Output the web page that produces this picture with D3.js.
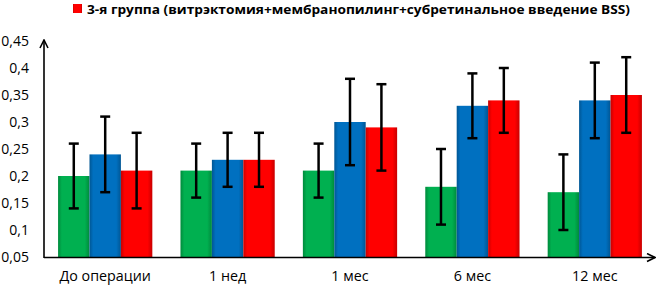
<!DOCTYPE html>
<html>
<head>
<meta charset="utf-8">
<script src="https://cdn.jsdelivr.net/npm/d3@7"></script>
<style>
  body { margin: 0; background: #fff; }
  text { font-family: "Open Sans", sans-serif; }
</style>
</head>
<body>
<script>
// данные с графика
var categories = ["До операции", "1 нед", "1 мес", "6 мес", "12 мес"];
var seriesNames = ["1-я группа", "2-я группа", "3-я группа (витрэктомия+мембранопилинг+субретинальное введение BSS)"];
var greenVals = [0.20, 0.21, 0.21, 0.18, 0.17];
var greenLow  = [0.14, 0.16, 0.16, 0.11, 0.10];
var greenHigh = [0.26, 0.26, 0.26, 0.25, 0.24];
var blueVals  = [0.24, 0.23, 0.30, 0.33, 0.34];
var blueLow   = [0.17, 0.18, 0.22, 0.27, 0.27];
var blueHigh  = [0.31, 0.28, 0.38, 0.39, 0.41];
var redVals   = [0.21, 0.23, 0.29, 0.34, 0.35];
var redLow    = [0.14, 0.18, 0.21, 0.28, 0.28];
var redHigh   = [0.28, 0.28, 0.37, 0.40, 0.42];
var yTicks = [0.05, 0.1, 0.15, 0.2, 0.25, 0.3, 0.35, 0.4, 0.45];

var colors = ["#00b050", "#0070c0", "#ff0000"];
var darks  = ["#008a3c", "#005694", "#c80000"];

var series = [
  {vals: greenVals, low: greenLow, high: greenHigh},
  {vals: blueVals, low: blueLow, high: blueHigh},
  {vals: redVals, low: redLow, high: redHigh}
];

var width = 658, height = 285;
var plotLeft = 44, plotRight = 656, plotTop = 41, plotBottom = 257;

var svg = d3.select("body").append("svg")
    .attr("width", width)
    .attr("height", height);

var defs = svg.append("defs");
colors.forEach(function(c, i) {
  var g = defs.append("linearGradient").attr("id", "grad" + i)
      .attr("x1", "0").attr("x2", "1").attr("y1", "0").attr("y2", "0");
  g.append("stop").attr("offset", "0").attr("stop-color", darks[i]);
  g.append("stop").attr("offset", "0.12").attr("stop-color", c);
  g.append("stop").attr("offset", "0.85").attr("stop-color", c);
  g.append("stop").attr("offset", "1").attr("stop-color", darks[i]);
});
defs.append("marker").attr("id", "arrow")
    .attr("viewBox", "0 0 10 10").attr("refX", 9).attr("refY", 5)
    .attr("markerWidth", 10).attr("markerHeight", 10)
    .attr("markerUnits", "userSpaceOnUse")
    .attr("orient", "auto")
  .append("path")
    .attr("d", "M1,1 L9,5 L1,9")
    .attr("fill", "none").attr("stroke", "#000").attr("stroke-width", 1.6);

var x0 = d3.scaleBand().domain(categories).range([plotLeft, plotRight]).paddingInner(0.23).paddingOuter(0.115);
var x1 = d3.scaleBand().domain([0, 1, 2]).range([0, x0.bandwidth()]);
var y = d3.scaleLinear().domain([0.05, 0.45]).range([plotBottom, plotTop]);

// столбцы
var groups = svg.selectAll("g.cat")
    .data(categories)
    .join("g")
    .attr("class", "cat")
    .attr("transform", function(d) { return "translate(" + x0(d) + ",0)"; });

series.forEach(function(s, si) {
  groups.append("rect")
      .attr("x", x1(si))
      .attr("width", x1.bandwidth())
      .attr("y", function(d, i) { return y(s.vals[i]); })
      .attr("height", function(d, i) { return y(0.05) - y(s.vals[i]); })
      .attr("fill", "url(#grad" + si + ")");
});

// планки погрешностей
series.forEach(function(s, si) {
  var cx = x1(si) + x1.bandwidth() / 2;
  groups.append("line")
      .attr("x1", cx).attr("x2", cx)
      .attr("y1", function(d, i) { return y(s.low[i]); })
      .attr("y2", function(d, i) { return y(s.high[i]); })
      .attr("stroke", "#000").attr("stroke-width", 2.5);
  [s.low, s.high].forEach(function(arr) {
    groups.append("line")
        .attr("x1", cx - 5).attr("x2", cx + 5)
        .attr("y1", function(d, i) { return y(arr[i]); })
        .attr("y2", function(d, i) { return y(arr[i]); })
        .attr("stroke", "#000").attr("stroke-width", 2.5);
  });
});

// оси
svg.append("line")
    .attr("x1", plotLeft).attr("x2", plotLeft)
    .attr("y1", plotBottom + 1).attr("y2", plotTop - 1)
    .attr("stroke", "#000").attr("stroke-width", 1.6)
    .attr("marker-end", "url(#arrow)");
svg.append("line")
    .attr("x1", plotLeft).attr("x2", 655)
    .attr("y1", plotBottom + 0.5).attr("y2", plotBottom + 0.5)
    .attr("stroke", "#000").attr("stroke-width", 1.6)
    .attr("marker-end", "url(#arrow)");

svg.selectAll("text.ytick")
    .data(yTicks)
    .join("text")
    .attr("class", "ytick")
    .attr("x", 29)
    .attr("y", function(d) { return y(d); })
    .attr("dy", "0.35em")
    .attr("text-anchor", "end")
    .attr("font-size", 14)
    .attr("fill", "#000")
    .text(function(d) { return d3.format(".2~f")(d).replace(".", ","); });

svg.selectAll("text.xlab")
    .data(categories)
    .join("text")
    .attr("class", "xlab")
    .attr("x", function(d) { return x0(d) + x0.bandwidth() / 2; })
    .attr("y", 281)
    .attr("text-anchor", "middle")
    .attr("font-size", 14.3)
    .attr("fill", "#000")
    .text(function(d) { return d; });

// легенда (видна только третья серия)
svg.append("rect")
    .attr("x", 73).attr("y", 4).attr("width", 9).attr("height", 9)
    .attr("fill", "url(#grad2)");
svg.append("text")
    .attr("x", 87).attr("y", 13.5)
    .attr("font-size", 13)
    .attr("font-weight", "bold")
    .attr("fill", "#000")
    .attr("textLength", 543)
    .attr("lengthAdjust", "spacingAndGlyphs")
    .text(seriesNames[2]);
</script>
</body>
</html>
